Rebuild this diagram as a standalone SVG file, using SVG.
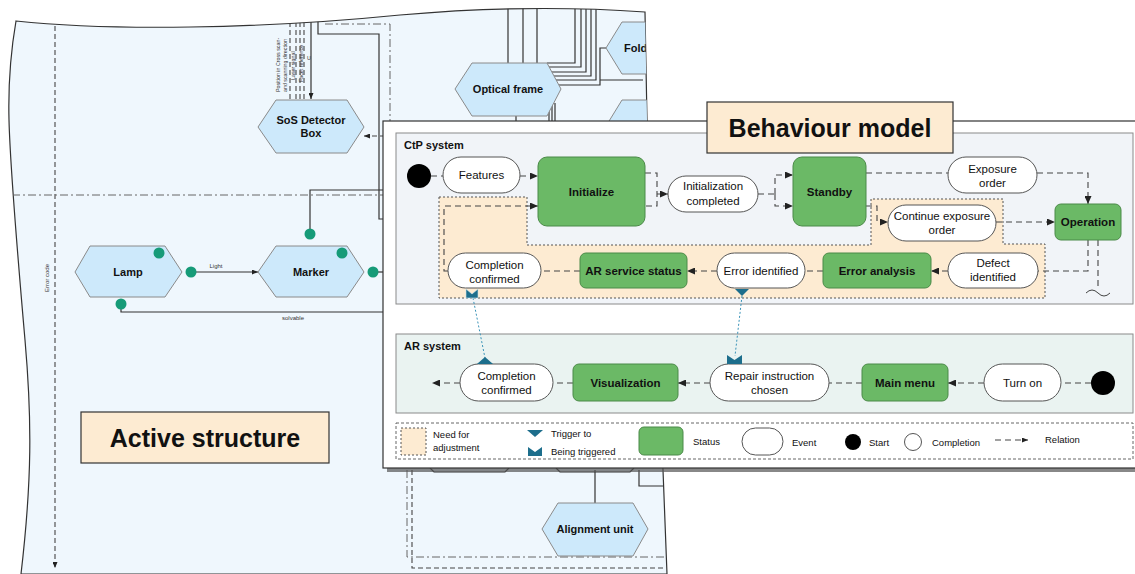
<svg xmlns="http://www.w3.org/2000/svg" width="1135" height="574" viewBox="0 0 1135 574">
<style>
text{font-family:"Liberation Sans",Arial,sans-serif;fill:#111}
.hex{fill:#cde9fb;stroke:#8a8a8a;stroke-width:1}
.ht{font-size:11px;font-weight:bold;text-anchor:middle}
.dot{fill:#169b78}
.ln{fill:none;stroke:#333;stroke-width:1.2}
.ds{fill:none;stroke:#444;stroke-width:1.1;stroke-dasharray:5 3}
.dd{fill:none;stroke:#666;stroke-width:1;stroke-dasharray:8 3 2 3}
.sm{font-size:6px;text-anchor:middle;fill:#333}
.tiny{font-size:5.3px;fill:#333}
.ev{fill:#fff;stroke:#555;stroke-width:1}
.st{fill:#6bb966;stroke:#4b8a48;stroke-width:1}
.et{font-size:11.5px;text-anchor:middle}
.stt{font-size:11.5px;font-weight:bold;text-anchor:middle}
.cn{fill:none;stroke:#444;stroke-width:1.1;stroke-dasharray:6 4}
.trg{fill:#1d6e8c}
.tl{fill:none;stroke:#3a93b8;stroke-width:1;stroke-dasharray:2 2}
.lg{font-size:9.5px}
.title{font-size:25px;font-weight:bold;text-anchor:middle}
.peach{fill:#fdebd2}
</style>
<defs>
<marker id="ar" markerUnits="userSpaceOnUse" markerWidth="8" markerHeight="7" refX="8" refY="3.5" orient="auto"><path d="M0,0 L8,3.5 L0,7 z" fill="#222"/></marker>
<marker id="ars" markerUnits="userSpaceOnUse" markerWidth="6" markerHeight="5" refX="6" refY="2.5" orient="auto"><path d="M0,0 L6,2.5 L0,5 z" fill="#222"/></marker>
<clipPath id="asClip"><path d="M16,21 C110,31 260,29 400,15 C480,8 560,6 645,12 L647,120 L663,470 L667,574 L21,574 C32,480 32,420 25,340 C18,260 10,160 9,120 C8,80 11,50 16,21 Z"/></clipPath>
</defs>
<rect width="1135" height="574" fill="#fff"/>

<!-- Active structure background -->
<g id="active-structure">
<path d="M16,21 C110,31 260,29 400,15 C480,8 560,6 645,12 L647,120 L663,470 L667,574 L21,574 C32,480 32,420 25,340 C18,260 10,160 9,120 C8,80 11,50 16,21 Z" fill="#eff7fd" stroke="#333" stroke-width="1.2"/>
<g clip-path="url(#asClip)">
<!-- boundary lines -->
<path class="ds" d="M55,26 V568" marker-end="url(#ars)"/>
<text class="sm" transform="translate(49,278) rotate(-90)">Error code</text>
<path class="dd" d="M12,195 H385"/>
<path class="dd" d="M325,24 H390 V121"/>
<path class="ln" d="M318,18 V34 H379 V219 H383"/>
<!-- lines above SoS -->
<path class="ds" d="M290,22 V100 M296,22 V100 M300,22 V100 M304,22 V100"/>
<path class="ln" d="M311,18 V99" stroke-width="1" marker-end="url(#ars)"/>
<text class="tiny" transform="translate(280,92) rotate(-90)">Position in Cross scan-</text>
<text class="tiny" transform="translate(287,92) rotate(-90)">and scanning direction</text>
<text class="tiny" transform="translate(295,80) rotate(-90)">Laser signal</text>
<text class="tiny" transform="translate(303,82) rotate(-90)">Facet reference</text>
<text class="tiny" x="307" y="60">U</text>
<path class="ds" d="M385,136 H364" marker-end="url(#ars)"/>
<!-- optical frame lines -->
<path class="ln" d="M508,8 V63 M523,8 V63 M537,8 V63" stroke-width="1"/>
<path class="ln" stroke-width="1" d="M575,7 V63 H547 M581,7 V67 H549 M586,7 V72 H552 M591,7 V76 H554 M596,7 V80 H556 M606,48 H600 V85 H559 M643,80 H600"/>
<path class="ln" stroke-width="1" d="M516,116 V121 M549,103 V121 M552,103 V121 M555,103 V121"/>
<!-- Marker / Lamp wiring -->
<path class="ln" d="M310,234 V190 H383"/>
<path class="ln" d="M373,272 H383"/>
<path class="ln" d="M121,304 V312 H383"/>
<path class="ln" d="M196,272 H258" stroke-width="1" marker-end="url(#ars)"/>
<text class="sm" x="216" y="268">Light</text>
<text class="sm" x="293" y="320">solvable</text>
<!-- below behaviour model -->
<path class="dd" d="M407,470 V557 H665"/>
<path class="ds" d="M412,470 V568 H665"/>
<path class="ln" d="M595,470 V503"/>
<path class="ln" d="M639,470 V486 H663"/>
<path class="ln" d="M430,468 L434,472 H505 L509,468 M556,468 L560,472 H630 L634,468"/>

<g id="node-sos"><polygon class="hex" points="258,127 276,100 347,100 364,127 347,153 276,153"/><text class="ht" x="311" y="124">SoS Detector</text><text class="ht" x="311" y="137">Box</text></g>
<g id="node-optical-frame"><polygon class="hex" points="455,89 472,63 547,63 561,89 547,116 472,116"/><text class="ht" x="508" y="93">Optical frame</text></g>
<g id="node-folder"><polygon class="hex" points="606,48 622,22 700,22 716,48 700,74 622,74"/><text class="ht" x="624" y="52" style="text-anchor:start">Fold</text></g>
<g id="node-lower-right"><polygon class="hex" points="606,126 622,100 700,100 716,126 700,152 622,152"/></g>
<g id="node-lamp"><polygon class="hex" points="75,272 90,246 165,246 182,272 165,297 90,297"/><text class="ht" x="128" y="276">Lamp</text><circle class="dot" cx="159" cy="253" r="5.5"/><circle class="dot" cx="191" cy="272" r="5.5"/><circle class="dot" cx="121" cy="304" r="5.5"/></g>
<g id="node-marker"><polygon class="hex" points="258,272 276,246 347,246 364,272 347,297 276,297"/><text class="ht" x="311" y="276">Marker</text><circle class="dot" cx="342" cy="253" r="5.5"/><circle class="dot" cx="310" cy="234" r="5.5"/><circle class="dot" cx="373" cy="272" r="5.5"/></g>
<g id="node-alignment"><polygon class="hex" points="542,529 558,503 633,503 648,529 633,556 558,556"/><text class="ht" x="595" y="533">Alignment unit</text></g>
</g>
<g id="title-active"><rect x="81" y="412" width="248" height="51" fill="#fdebd2" stroke="#333" stroke-width="1.2"/><text class="title" x="205" y="447">Active structure</text></g>
</g>

<!-- Behaviour model -->
<g id="behaviour-model">
<rect x="387" y="125" width="760" height="347" fill="#555" opacity="0.7"/>
<rect x="383" y="121" width="760" height="347" fill="#fff" stroke="#333" stroke-width="1.2"/>
<rect id="ctp-panel" x="396" y="133" width="737" height="171" fill="#f1f4f8" stroke="#8a8a8a"/>
<text x="404" y="149" style="font-size:11px;font-weight:bold">CtP system</text>
<path id="need-adjust" class="peach" d="M439,197 H527 V245 H871 V199 H1003 V244 H1045 V298 H439 Z" stroke="#555" stroke-width="1" stroke-dasharray="2 2"/>
<rect id="ar-panel" x="396" y="334" width="737" height="79" fill="#eaf3f1" stroke="#8a8a8a"/>
<text x="404" y="350" style="font-size:11px;font-weight:bold">AR system</text>
</g>

<g id="connectors">
<path class="cn" d="M431,176 H443"/>
<path class="cn" d="M520,176 H538" marker-end="url(#ar)"/>
<path class="cn" d="M645,173 H657 V206 H645"/>
<path class="cn" d="M657,194 H668" marker-end="url(#ar)"/>
<path class="cn" d="M758,194 H775"/>
<path class="cn" d="M775,194 V175 H793" marker-end="url(#ar)"/>
<path class="cn" d="M775,194 V206 H793" marker-end="url(#ar)"/>
<path class="cn" d="M866,173 H948"/>
<path class="cn" d="M1037,173 H1088 V204" marker-end="url(#ar)"/>
<path class="cn" d="M866,206 H877 V222 H888" marker-end="url(#ar)"/>
<path class="cn" d="M996,222 H1055" marker-end="url(#ar)"/>
<path class="cn" d="M1088,240 V271 H1038"/>
<path class="cn" d="M1098,240 V289" stroke-dasharray="4 2"/>
<path fill="none" stroke="#444" stroke-width="1" d="M1086,293 q6,-6 12,0 t12,0"/>
<path class="cn" d="M948,271 H931" marker-end="url(#ar)"/>
<path class="cn" d="M823,271 H805"/>
<path class="cn" d="M717,271 H687" marker-end="url(#ar)"/>
<path class="cn" d="M580,271 H541"/>
<path class="cn" d="M448,271 H444 V206 H538" marker-end="url(#ar)"/>
<path class="cn" d="M1091,383 H1061"/>
<path class="cn" d="M984,383 H948" marker-end="url(#ar)"/>
<path class="cn" d="M862,383 H829"/>
<path class="cn" d="M710,383 H678" marker-end="url(#ar)"/>
<path class="cn" d="M573,383 H553"/>
<path class="cn" d="M460,383 H432" marker-end="url(#ar)"/>
<path class="tl" d="M742,296 L735,356"/>
<path class="tl" d="M473,298 L485,358"/>
</g>

<g id="ctp-start"><circle cx="419" cy="176" r="12" fill="#000"/></g>
<g id="ctp-features"><rect class="ev" x="443" y="157" width="77" height="36" rx="18"/><text class="et" x="481.5" y="179">Features</text></g>
<g id="ctp-initialize"><rect class="st" x="538" y="157" width="107" height="69" rx="9"/><text class="stt" x="591.5" y="196">Initialize</text></g>
<g id="ctp-init-completed"><rect class="ev" x="668" y="176" width="90" height="36" rx="18"/><text class="et" x="713" y="190">Initialization</text><text class="et" x="713" y="205">completed</text></g>
<g id="ctp-standby"><rect class="st" x="793" y="157" width="73" height="69" rx="9"/><text class="stt" x="829.5" y="196">Standby</text></g>
<g id="ctp-exposure-order"><rect class="ev" x="948" y="157" width="89" height="36" rx="18"/><text class="et" x="992.5" y="173">Exposure</text><text class="et" x="992.5" y="187">order</text></g>
<g id="ctp-operation"><rect class="st" x="1055" y="204" width="66" height="36" rx="6"/><text class="stt" x="1088" y="226">Operation</text></g>
<g id="ctp-continue"><rect class="ev" x="888" y="205" width="108" height="36" rx="18"/><text class="et" x="942" y="220">Continue exposure</text><text class="et" x="942" y="234">order</text></g>
<g id="ctp-defect"><rect class="ev" x="948" y="253" width="90" height="35" rx="17.5"/><text class="et" x="993" y="267">Defect</text><text class="et" x="993" y="281">identified</text></g>
<g id="ctp-error-analysis"><rect class="st" x="823" y="253" width="108" height="35" rx="6"/><text class="stt" x="877" y="275">Error analysis</text></g>
<g id="ctp-error-identified"><rect class="ev" x="717" y="253" width="88" height="35" rx="17.5"/><text class="et" x="761" y="275">Error identified</text><polygon class="trg" points="735,289 749,289 742,296"/></g>
<g id="ctp-ar-service"><rect class="st" x="580" y="253" width="107" height="35" rx="6"/><text class="stt" x="633.5" y="275">AR service status</text></g>
<g id="ctp-completion"><rect class="ev" x="448" y="253" width="93" height="35" rx="17.5"/><text class="et" x="494.5" y="269">Completion</text><text class="et" x="494.5" y="283">confirmed</text><polygon class="trg" points="466,289 472,294 478,289 478,298 466,298" stroke="#cfe6ee" stroke-width="0.6"/></g>

<g id="ar-start"><circle cx="1103" cy="383" r="12" fill="#000"/></g>
<g id="ar-turn-on"><rect class="ev" x="984" y="364" width="77" height="37" rx="18.5"/><text class="et" x="1022.5" y="387">Turn on</text></g>
<g id="ar-main-menu"><rect class="st" x="862" y="364" width="86" height="37" rx="6"/><text class="stt" x="905" y="387">Main menu</text></g>
<g id="ar-repair"><rect class="ev" x="710" y="364" width="119" height="37" rx="18.5"/><text class="et" x="769.5" y="380">Repair instruction</text><text class="et" x="769.5" y="394">chosen</text><polygon class="trg" points="727,355 734.5,360 742,355 742,364 727,364"/></g>
<g id="ar-visualization"><rect class="st" x="573" y="364" width="105" height="37" rx="6"/><text class="stt" x="625.5" y="387">Visualization</text></g>
<g id="ar-completion"><rect class="ev" x="460" y="364" width="93" height="37" rx="18.5"/><text class="et" x="506.5" y="380">Completion</text><text class="et" x="506.5" y="394">confirmed</text><polygon class="trg" points="477,364 493,364 485,357"/></g>

<g id="title-behaviour"><rect x="707" y="102" width="246" height="51" fill="#fdebd2" stroke="#333" stroke-width="1.2"/><text class="title" x="830" y="137">Behaviour model</text></g>

<g id="legend">
<rect x="396" y="423" width="737" height="36" fill="#fff" stroke="#666" stroke-dasharray="3 2"/>
<rect class="peach" x="401" y="428" width="25" height="27" stroke="#555" stroke-dasharray="2 2"/>
<text class="lg" x="433" y="438">Need for</text>
<text class="lg" x="433" y="451">adjustment</text>
<polygon class="trg" points="527,430 543,430 535,437"/>
<text class="lg" x="551" y="437">Trigger to</text>
<polygon class="trg" points="528,447 535,452 542,447 542,456 528,456"/>
<text class="lg" x="551" y="455">Being triggered</text>
<rect class="st" x="639" y="427" width="44" height="28" rx="5"/>
<text class="lg" x="693" y="445">Status</text>
<rect class="ev" x="742" y="428" width="41" height="27" rx="13.5"/>
<text class="lg" x="792" y="446">Event</text>
<circle cx="853" cy="442" r="8" fill="#000"/>
<text class="lg" x="869" y="446">Start</text>
<circle cx="913" cy="442" r="8.5" fill="#fff" stroke="#555"/>
<text class="lg" x="932" y="446">Completion</text>
<path class="cn" d="M995,440 H1028" stroke-dasharray="4 3" marker-end="url(#ars)"/>
<text class="lg" x="1045" y="443">Relation</text>
</g>
</svg>
